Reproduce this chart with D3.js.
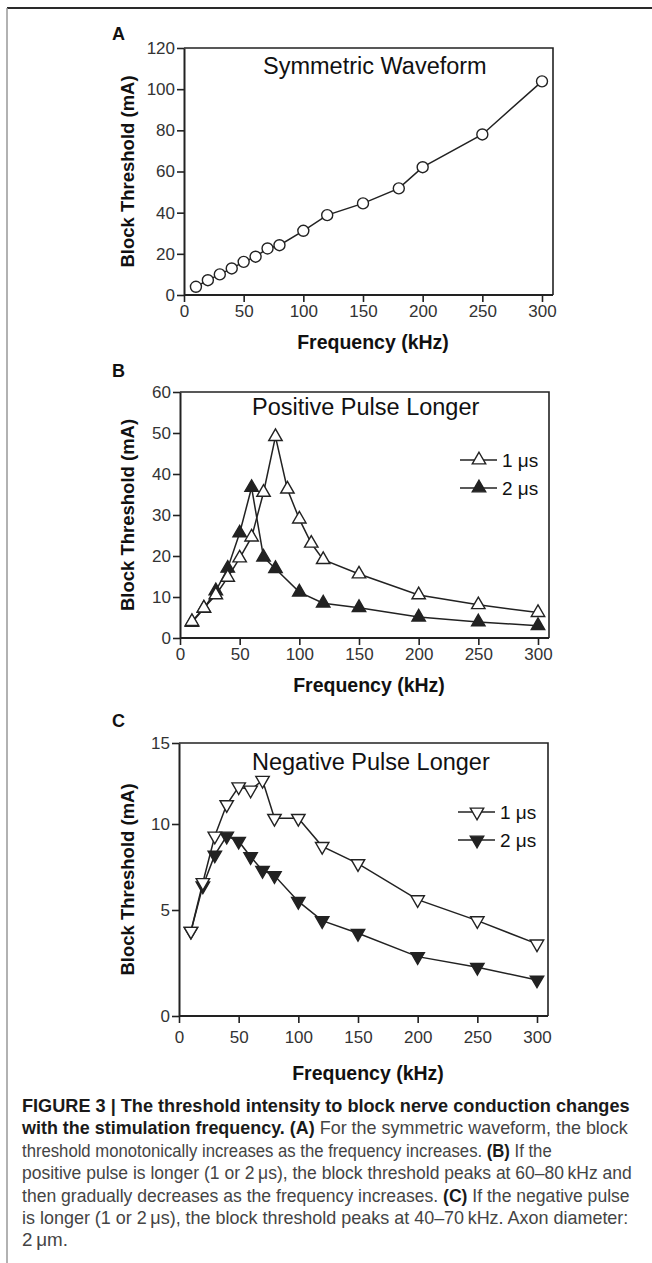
<!DOCTYPE html>
<html>
<head>
<meta charset="utf-8">
<script src="https://cdn.jsdelivr.net/npm/d3@7"></script>
<style>
  body { margin: 0; background: #fff; }
  svg { display: block; font-family: 'Liberation Sans', Arial, sans-serif; }
</style>
</head>
<body>
<svg id="fig" width="652" height="1263"></svg>
<script>
// panel A
const freqA = [10, 20, 30, 40, 50, 60, 70, 80, 100, 120, 150, 180, 200, 250, 300];
const symA = [4.0, 7.2, 10, 12.9, 16.1, 18.6, 22.6, 24.2, 31.2, 38.8, 44.5, 51.8, 62.1, 78, 103.8];

// panel B
const freqB1 = [10, 20, 30, 40, 50, 60, 70, 80, 90, 100, 110, 120, 150, 200, 250, 300];
const posB1 = [4.0, 7.3, 10.5, 14.8, 19.5, 24.6, 35.5, 49.1, 36.3, 29, 23.1, 19.1, 15.6, 10.5, 8.1, 6.2];
const freqB2 = [10, 20, 30, 40, 50, 60, 70, 80, 100, 120, 150, 200, 250, 300];
const posB2 = [3.8, 7.2, 11.5, 17, 25.6, 36.7, 19.7, 16.9, 11.2, 8.5, 7.4, 5.1, 3.9, 3.0];

// panel C
const freqC = [10, 20, 30, 40, 50, 60, 70, 80, 100, 120, 150, 200, 250, 300];
const negC1 = [4.0, 6.6, 9.3, 11.2, 12.3, 12.1, 12.7, 10.35, 10.35, 8.7, 7.7, 5.6, 4.5, 3.4];
const negC2 = [4.0, 6.4, 8.2, 9.3, 9.0, 8.1, 7.3, 7.0, 5.5, 4.5, 3.9, 2.8, 2.3, 1.7];

const xTicks = [0, 50, 100, 150, 200, 250, 300];
const yTicksA = [0, 20, 40, 60, 80, 100, 120];
const yTicksB = [0, 10, 20, 30, 40, 50, 60];
const yTicksC = [0, 5, 10, 15];
const legendLabels = ['1 \u03bcs', '2 \u03bcs'];

const SVG = d3.select('#fig');
const INK = '#222';

// figure frame
SVG.append('line').attr('x1', 7).attr('x2', 652).attr('y1', 8).attr('y2', 8)
  .style('stroke', '#2a2a2a').style('stroke-width', 2);
SVG.append('line').attr('x1', 7).attr('x2', 7).attr('y1', 8).attr('y2', 1263)
  .style('stroke', '#999').style('stroke-width', 1.5);

const triUp = d3.symbol().type(d3.symbolTriangle).size(78);
const circ = d3.symbol().type(d3.symbolCircle).size(95);

function panel(cfg) {
  const g = SVG.append('g');
  const x = d3.scaleLinear().domain([0, 300]).range([cfg.left, cfg.left + 358]);
  // the scanned panel C is slightly stretched toward its bottom, so its y scale is piecewise
  const y = d3.scaleLinear().domain(cfg.yDomain).range(cfg.yRange);
  const top = d3.min(cfg.yRange);
  const bottom = d3.max(cfg.yRange);
  const right = cfg.left + 369;

  g.append('path')
    .attr('d', `M${cfg.left},${top}H${right}V${bottom}`)
    .style('fill', 'none').style('stroke', INK).style('stroke-width', 1.6);

  const yAx = g.append('g').attr('transform', `translate(${cfg.left},0)`)
    .call(d3.axisLeft(y).tickValues(cfg.yTicks).tickSize(7).tickSizeOuter(0).tickPadding(2));
  const xAx = g.append('g').attr('transform', `translate(0,${bottom})`)
    .call(d3.axisBottom(x).tickValues(xTicks).tickSize(7).tickSizeOuter(0).tickPadding(cfg.xPad));
  xAx.select('.domain').attr('d', `M${cfg.left},0H${right}`);
  [yAx, xAx].forEach((a) => {
    a.select('.domain').style('stroke', INK).style('stroke-width', 2);
    a.selectAll('.tick line').style('stroke', INK).style('stroke-width', 1.6);
    a.selectAll('.tick text').style('font-size', '17px').style('fill', '#333')
      .style('font-family', "'Liberation Sans', Arial, sans-serif");
  });

  g.append('text').attr('x', 112).attr('y', cfg.letterY).text(cfg.letter)
    .style('font-weight', 'bold').style('font-size', '18px').style('fill', '#111');
  g.append('text').attr('x', cfg.left + 189).attr('y', cfg.freqY)
    .attr('text-anchor', 'middle').text('Frequency (kHz)')
    .style('font-weight', 'bold').style('font-size', '19.5px').style('fill', '#111');
  g.append('text')
    .attr('transform', `translate(134,${(top + bottom) / 2}) rotate(-90)`)
    .attr('text-anchor', 'middle').text('Block Threshold (mA)')
    .style('font-weight', 'bold').style('font-size', '18.5px').style('fill', '#111');
  g.append('text').attr('x', cfg.titleX).attr('y', cfg.titleY).text(cfg.title)
    .style('font-size', '23.5px').style('fill', '#111');

  const line = d3.line().x((d) => x(d[0])).y((d) => y(d[1]));
  cfg.series.forEach((s) => {
    const pts = s.f.map((f, i) => [f, s.v[i]]);
    g.append('path').attr('d', line(pts))
      .style('fill', 'none').style('stroke', INK).style('stroke-width', 1.5);
  });
  cfg.series.slice().reverse().forEach((s) => {
    const pts = s.f.map((f, i) => [f, s.v[i]]);
    g.selectAll(null).data(pts).join('path')
      .attr('transform', (d) => markerTransform(s.shape, x(d[0]), y(d[1])))
      .attr('d', s.shape === 'circle' ? circ() : triUp())
      .style('fill', s.filled ? INK : '#fff')
      .style('stroke', INK).style('stroke-width', 1.4);
  });

  if (cfg.legend) {
    cfg.series.forEach((s, i) => {
      const ly = cfg.legend.y + i * 28;
      g.append('line').attr('x1', cfg.legend.x).attr('x2', cfg.legend.x + 37)
        .attr('y1', ly).attr('y2', ly).style('stroke', INK).style('stroke-width', 1.5);
      g.append('path')
        .attr('transform', markerTransform(s.shape, cfg.legend.x + 19, ly))
        .attr('d', triUp())
        .style('fill', s.filled ? INK : '#fff').style('stroke', INK).style('stroke-width', 1.4);
      g.append('text').attr('x', cfg.legend.x + 42).attr('y', ly + 7).text(legendLabels[i])
        .style('font-size', '19px').style('fill', '#111');
    });
  }
}

function markerTransform(shape, px, py) {
  if (shape === 'down') return `translate(${px},${py}) rotate(180)`;
  return `translate(${px},${py})`;
}

panel({
  letter: 'A', left: 184, yDomain: [0, 120], yRange: [295, 48], yTicks: yTicksA,
  letterY: 40, titleY: 74, freqY: 349, xPad: 3,
  title: 'Symmetric Waveform', titleX: 263,
  series: [{ f: freqA, v: symA, shape: 'circle', filled: false }],
});
panel({
  letter: 'B', left: 180, yDomain: [0, 60], yRange: [638, 392], yTicks: yTicksB,
  letterY: 377, titleY: 415, freqY: 692, xPad: 3,
  title: 'Positive Pulse Longer', titleX: 252,
  series: [
    { f: freqB1, v: posB1, shape: 'up', filled: false },
    { f: freqB2, v: posB2, shape: 'up', filled: true },
  ],
  legend: { x: 460, y: 460 },
});
panel({
  letter: 'C', left: 179, yDomain: [0, 5, 10, 15], yRange: [1016, 910, 824, 743], yTicks: yTicksC,
  letterY: 727, titleY: 770, freqY: 1080, xPad: 8,
  title: 'Negative Pulse Longer', titleX: 252,
  series: [
    { f: freqC, v: negC1, shape: 'down', filled: false },
    { f: freqC, v: negC2, shape: 'down', filled: true },
  ],
  legend: { x: 458, y: 812 },
});

// caption: each line is a list of [text, bold]
const captionLines = [
  [['FIGURE 3 | The threshold intensity to block nerve conduction changes', true]],
  [['with the stimulation frequency. (A)', true], [' For the symmetric waveform, the block', false]],
  [['threshold monotonically increases as the frequency increases. ', false], ['(B)', true], [' If the', false]],
  [['positive pulse is longer (1 or 2\u2009\u03bcs), the block threshold peaks at 60\u201380\u2009kHz and', false]],
  [['then gradually decreases as the frequency increases. ', false], ['(C)', true], [' If the negative pulse', false]],
  [['is longer (1 or 2\u2009\u03bcs), the block threshold peaks at 40\u201370\u2009kHz. Axon diameter:', false]],
  [['2\u2009\u03bcm.', false]],
];
const captionWidths = [608, 606, 530, 610, 608, 607, 46];

const CAP = SVG.append('g').attr('id', 'caption');
captionLines.forEach((segs, i) => {
  const t = CAP.append('text').attr('x', 0).attr('y', 0)
    .style('font-size', '17.5px');
  segs.forEach(([s, b]) => {
    t.append('tspan').text(s)
      .style('font-weight', b ? 'bold' : 'normal')
      .style('fill', b ? '#1a1a1a' : '#444');
  });
  const w = t.node().getComputedTextLength();
  t.attr('transform', `translate(22,${1112 + i * 22.4}) scale(${captionWidths[i] / w},1)`);
});
</script>
</body>
</html>
